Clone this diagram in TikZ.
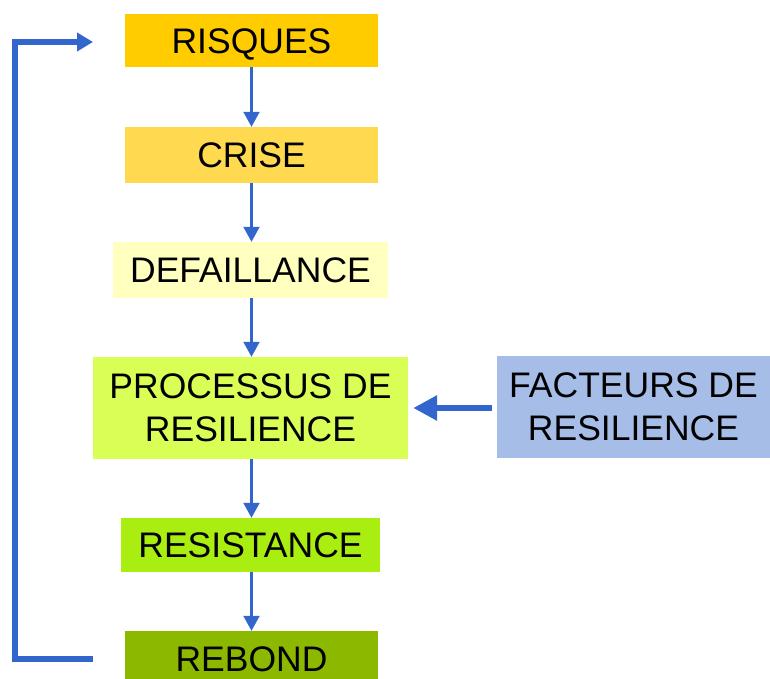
\documentclass[tikz,border=0pt]{standalone}
\usepackage{fontspec}
\setmainfont{Liberation Sans}
\usetikzlibrary{arrows.meta,calc}
\definecolor{arrowblue}{HTML}{3366CC}
\definecolor{cRisq}{HTML}{FFCC00}
\definecolor{cCrise}{HTML}{FFD94F}
\definecolor{cDef}{HTML}{FFFFC0}
\definecolor{cProc}{HTML}{D9FF57}
\definecolor{cFact}{HTML}{A6BDE8}
\definecolor{cResist}{HTML}{AAEE11}
\definecolor{cReb}{HTML}{8DB800}
\tikzset{
  box/.style={rectangle, inner sep=0pt, align=center, font=\fontsize{35.5}{42.5}\selectfont},
  oneline/.style={text height=25.4pt, text depth=0pt},
  varrow/.style={draw=arrowblue, line width=2.2pt, -{Triangle[length=15pt,width=16pt]}, arrowblue},
  looparrow/.style={draw=arrowblue, line width=5.5pt, -{Triangle[length=16pt,width=18pt]}, arrowblue},
  harrow/.style={draw=arrowblue, line width=6.5pt, -{Triangle[length=24pt,width=24pt]}, arrowblue}
}
\begin{document}
\begin{tikzpicture}[x=1pt,y=-1pt]
\useasboundingbox (0,0) rectangle (770,679);
\node[box, oneline, fill=cRisq, minimum width=253pt, minimum height=53pt] (risques) at (251.5,40.5) {RISQUES};
\node[box, oneline, fill=cCrise, minimum width=253pt, minimum height=56pt] (crise) at (251.5,155) {CRISE};
\node[box, oneline, fill=cDef, minimum width=275pt, minimum height=56pt] (def) at (250.5,270) {DEFAILLANCE};
\node[box, fill=cProc, minimum width=315pt, minimum height=102pt] (proc) at (250.5,408) {PROCESSUS DE\\RESILIENCE};
\node[box, fill=cFact, minimum width=273pt, minimum height=102pt] (fact) at (633.5,407) {FACTEURS DE\\RESILIENCE};
\node[box, oneline, fill=cResist, minimum width=259pt, minimum height=54pt] (resist) at (250.5,545) {RESISTANCE};
\node[box, oneline, fill=cReb, minimum width=253pt, minimum height=56pt] (rebond) at (251.5,659) {REBOND};
\draw[varrow] (risques.south) -- (crise.north);
\draw[varrow] (crise.south) -- (crise.south |- def.north);
\draw[varrow] (crise.south |- def.south) -- (crise.south |- proc.north);
\draw[varrow] (crise.south |- proc.south) -- (crise.south |- resist.north);
\draw[varrow] (crise.south |- resist.south) -- (rebond.north);
\draw[harrow, shorten <=5pt, shorten >=5pt] (fact.west |- proc.east) -- (proc.east);
\coordinate (ls) at (93,659);
\coordinate (le) at (93,42);
\draw[looparrow] (ls) -- (15,659) -- (15,42) -- (le);
\end{tikzpicture}
\end{document}
